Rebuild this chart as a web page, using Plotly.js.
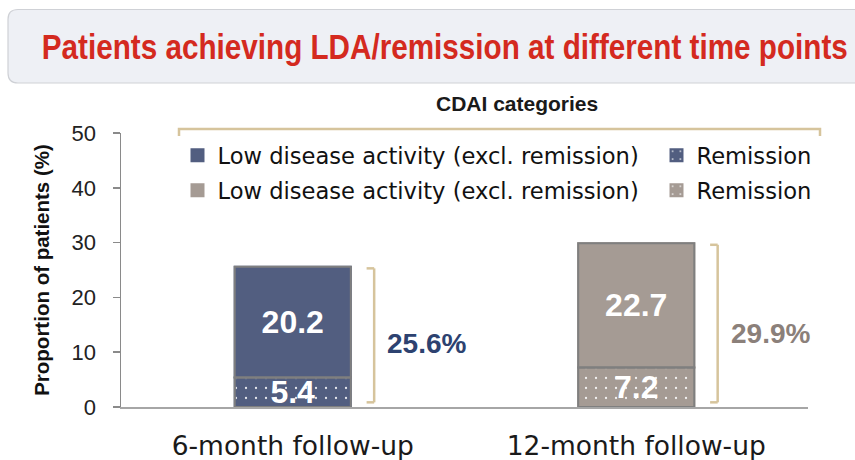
<!DOCTYPE html>
<html><head><meta charset="utf-8">
<script src="https://cdn.plot.ly/plotly-3.0.1.min.js"></script>
<style>html,body{margin:0;padding:0;background:#fff;} #chart{width:855px;height:460px;}</style>
</head><body><div id="chart"></div>
<script>
// ---- data ----
const categories = ["6-month follow-up", "12-month follow-up"];
const ldaValues = [20.2, 22.7];
const remissionValues = [5.4, 7.2];
const seriesNames = ["Low disease activity (excl. remission)", "Remission"];
const yTickValues = [0, 10, 20, 30, 40, 50];
const titleText = "Patients achieving LDA/remission at different time points";
const legendHeader = "CDAI categories";
const yAxisTitle = "Proportion of patients (%)";

const totals = categories.map((c, i) => +(ldaValues[i] + remissionValues[i]).toFixed(1));

// ---- styles ----
const barColors = ["#525e80", "#a59b94"];
const totalColors = ["#2d4270", "#8b807a"];
const outlineColor = "#7f7f7f";
const bracketColor = "#d6c49c";
const W = 855, H = 460, M = {l: 121, r: 47, t: 133, b: 53};
const PW = W - M.l - M.r, PH = H - M.t - M.b;
const px = x => (x - M.l) / PW;
const py = y => (H - M.b - y) / PH;
const barWidth = 0.338;
const sansFont = "Liberation Sans, Arial, sans-serif";
const wideFont = "DejaVu Sans, Verdana, sans-serif";

const legendIds = [["legend", "legend2"], ["legend3", "legend4"]];
const traces = [];
categories.forEach((cat, i) => {
  const labelFont = {family: sansFont, size: 32, color: "#ffffff", weight: "bold"};
  traces.push({
    type: "bar", x: [cat], y: [remissionValues[i]], name: seriesNames[1],
    legend: legendIds[i][1], width: barWidth,
    marker: {color: barColors[i], line: {color: barColors[i], width: 2},
      pattern: {shape: ".", fillmode: "overlay", fgcolor: "#ffffff", bgcolor: barColors[i], size: 10, solidity: 0.04, fgopacity: 0.85}},
    text: [remissionValues[i].toFixed(1)], textposition: "inside", insidetextanchor: "middle",
    constraintext: "none", textfont: labelFont, insidetextfont: labelFont, hoverinfo: "skip"
  });
  traces.push({
    type: "bar", x: [cat], y: [ldaValues[i]], base: [remissionValues[i]], name: seriesNames[0],
    legend: legendIds[i][0], width: barWidth,
    marker: {color: barColors[i], line: {color: barColors[i], width: 2}},
    text: [ldaValues[i].toFixed(1)], textposition: "inside", insidetextanchor: "middle",
    constraintext: "none", textfont: labelFont, insidetextfont: labelFont, hoverinfo: "skip"
  });
});
// segment outlines
traces.push({type: "bar", x: categories, y: remissionValues, width: barWidth, showlegend: false, hoverinfo: "skip",
  marker: {color: "rgba(0,0,0,0)", line: {color: outlineColor, width: 2}}});
traces.push({type: "bar", x: categories, y: ldaValues, base: remissionValues, width: barWidth, showlegend: false, hoverinfo: "skip",
  marker: {color: "rgba(0,0,0,0)", line: {color: outlineColor, width: 2}}});

// ---- shapes ----
const bx0 = px(8), bx1 = px(870), by0 = py(83), by1 = py(9.5);
const rx = 10 / PW, ry = 10 / PH;
const shapes = [
  {type: "path", xref: "paper", yref: "paper", layer: "below",
   path: `M${bx0 + rx},${by1} L${bx1},${by1} L${bx1},${by0} L${bx0 + rx},${by0} Q${bx0},${by0} ${bx0},${by0 + ry} L${bx0},${by1 - ry} Q${bx0},${by1} ${bx0 + rx},${by1} Z`,
   fillcolor: "#eef0f5", line: {color: "#cfd1d6", width: 1.2}},
  {type: "path", xref: "paper", yref: "paper",
   path: `M${px(179)},${py(136)} L${px(179)},${py(129)} L${px(820)},${py(129)} L${px(820)},${py(136)}`,
   line: {color: bracketColor, width: 2.5}}
];
categories.forEach((c, i) => {
  const xv = i + 0.237, xh = i + 0.215, yTop = totals[i] - 0.3, yBot = 0.85;
  shapes.push({type: "line", xref: "x", yref: "y", x0: xv, x1: xv, y0: yBot, y1: yTop, line: {color: bracketColor, width: 2.5}});
  shapes.push({type: "line", xref: "x", yref: "y", x0: xh, x1: xv, y0: yTop, y1: yTop, line: {color: bracketColor, width: 2.5}});
  shapes.push({type: "line", xref: "x", yref: "y", x0: xh, x1: xv, y0: yBot, y1: yBot, line: {color: bracketColor, width: 2.5}});
});

// ---- annotations ----
const annotations = [
  {xref: "paper", yref: "paper", x: px(445), y: py(46), xanchor: "center", yanchor: "middle", showarrow: false,
   text: titleText, font: {family: "Liberation Sans Narrow, Arial Narrow, Liberation Sans, sans-serif", size: 29.5, color: "#d42a1f", weight: "bold"}},
  {xref: "paper", yref: "paper", x: px(517), y: py(103), xanchor: "center", yanchor: "middle", showarrow: false,
   text: legendHeader, font: {family: sansFont, size: 21, color: "#1a1a1a", weight: "bold"}}
];
categories.forEach((c, i) => {
  annotations.push({xref: "x", yref: "y", x: i + 0.39, y: totals[i] * 0.45, xanchor: "center", yanchor: "middle", showarrow: false,
    text: totals[i].toFixed(1) + "%", font: {family: sansFont, size: 28, color: totalColors[i], weight: "bold"}});
});

const legendCommon = {orientation: "v", xanchor: "left", yanchor: "middle", bgcolor: "rgba(0,0,0,0)", borderwidth: 0,
  font: {family: wideFont, size: 22.6, color: "#111111"}};
const layout = {
  width: W, height: H, margin: M, paper_bgcolor: "#ffffff", plot_bgcolor: "#ffffff",
  barmode: "overlay", showlegend: true,
  legend: Object.assign({x: px(177.5), y: py(155.5)}, legendCommon),
  legend2: Object.assign({x: px(656.5), y: py(155.5)}, legendCommon),
  legend3: Object.assign({x: px(177.5), y: py(190.5)}, legendCommon),
  legend4: Object.assign({x: px(656.5), y: py(190.5)}, legendCommon),
  xaxis: {type: "category", range: [-0.5, 1.5], showline: true, linecolor: "#a6a6a6", linewidth: 1.5, ticks: "",
    tickfont: {family: wideFont, size: 26.5, color: "#1a1a1a"}, ticklabelstandoff: 15, showgrid: false, zeroline: false, automargin: false},
  yaxis: {range: [0, 50], tickvals: yTickValues, showline: true, linecolor: "#8a8a8a", linewidth: 1.5, ticks: "outside", ticklen: 7,
    tickcolor: "#8a8a8a", tickwidth: 1.5, tickfont: {family: sansFont, size: 22, color: "#222222"}, ticklabelstandoff: 12,
    showgrid: false, zeroline: false, automargin: false,
    title: {text: yAxisTitle, standoff: 16, font: {family: sansFont, size: 20.5, color: "#111111", weight: "bold"}}},
  shapes: shapes, annotations: annotations
};
Plotly.newPlot("chart", traces, layout, {staticPlot: true, displayModeBar: false}).then(gd => {
  // give the headline the reference's tall, condensed look (width kept, height stretched)
  gd.querySelectorAll(".annotation-text").forEach(t => {
    if (t.textContent === titleText) {
      const bb = t.getBBox();
      const cy = bb.y + bb.height / 2;
      t.setAttribute("textLength", 806);
      t.setAttribute("lengthAdjust", "spacingAndGlyphs");
      const prev = t.getAttribute("transform") || "";
      t.setAttribute("transform", `${prev} translate(0,${cy}) scale(1,1.18) translate(0,${-cy})`);
    }
  });
});
</script>
</body></html>
